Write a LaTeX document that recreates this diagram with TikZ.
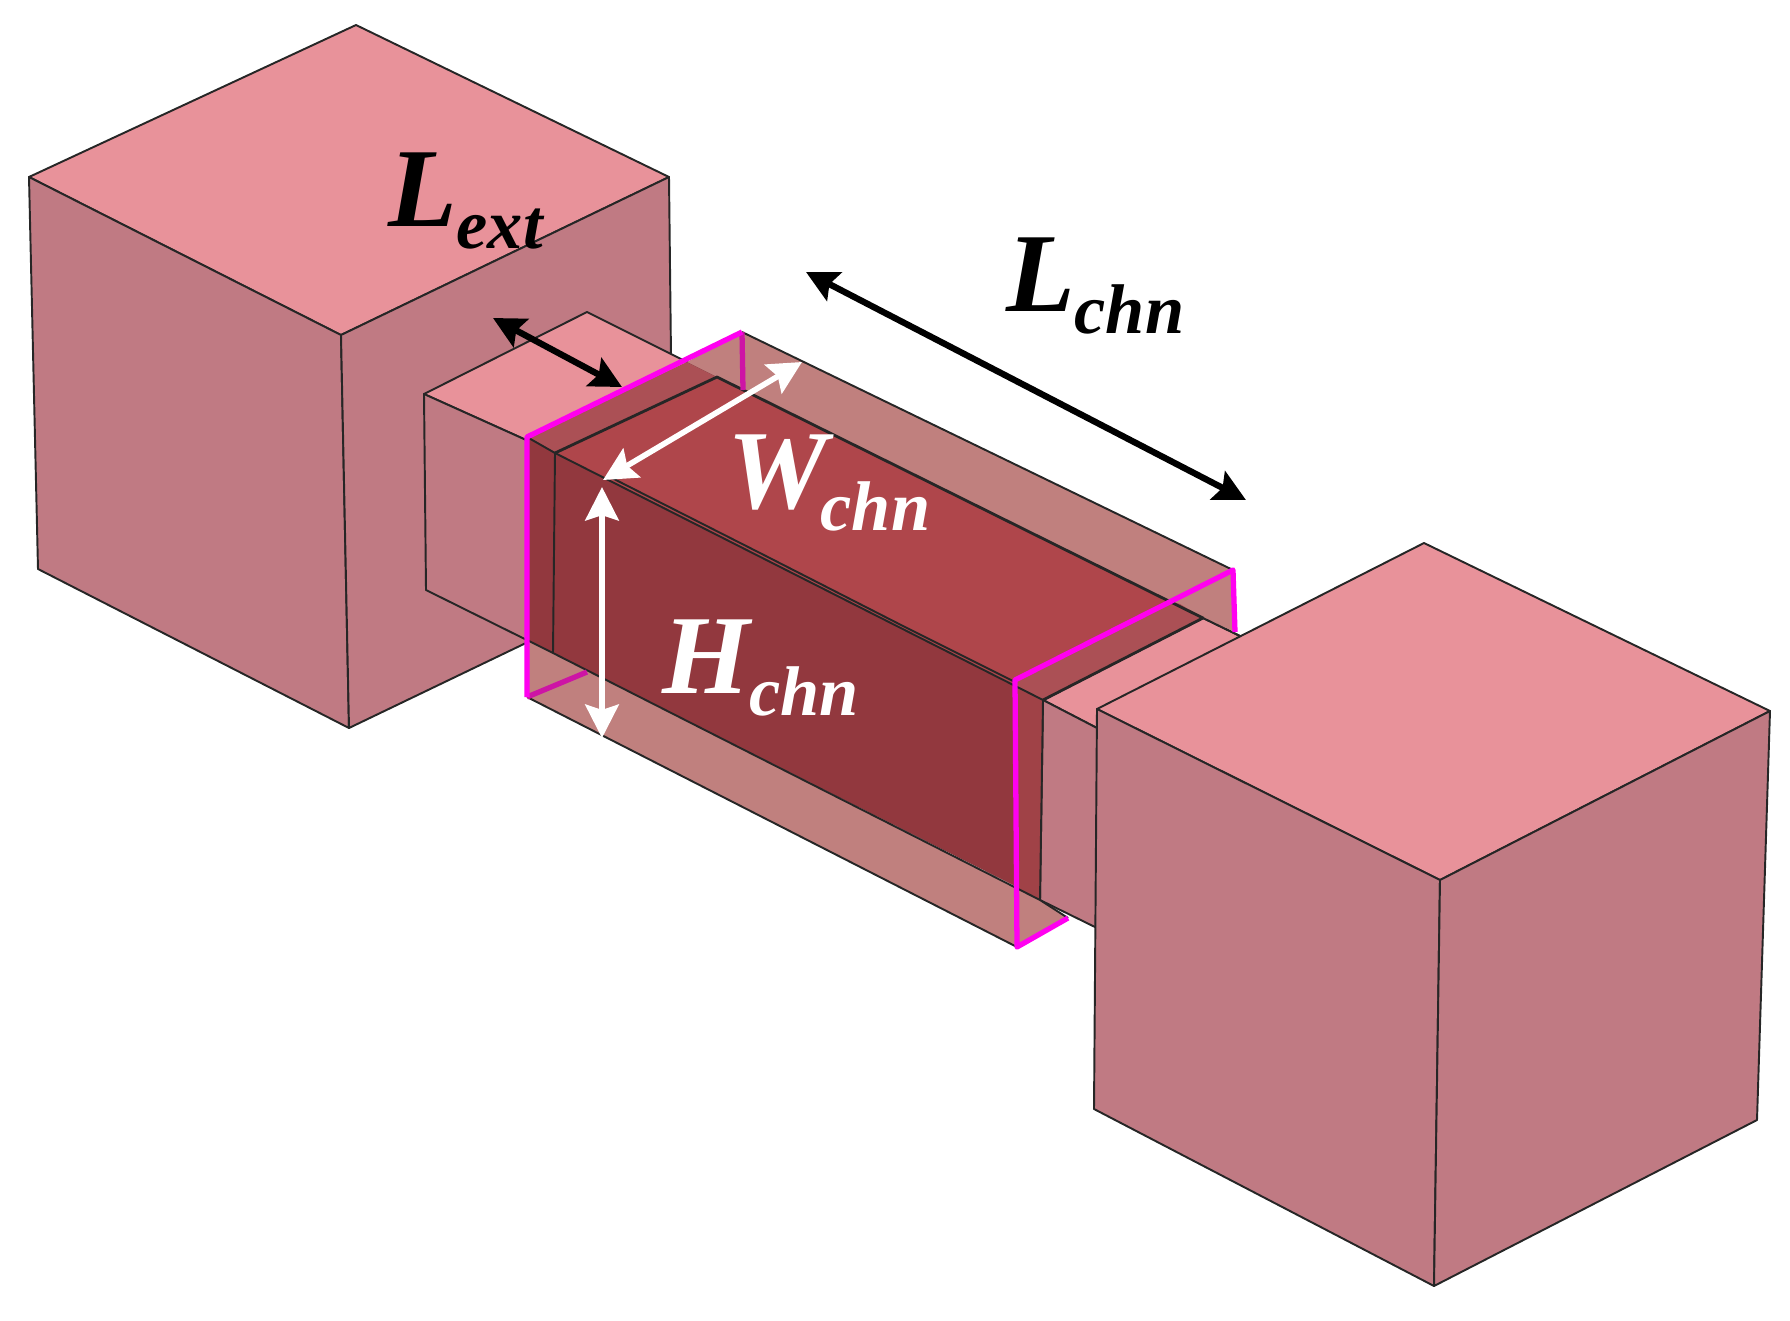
\documentclass[tikz,border=0pt]{standalone}
\usepackage{fontspec}
\setmainfont{Liberation Serif}
\usetikzlibrary{arrows.meta}
\definecolor{padtop}{RGB}{232,146,154}
\definecolor{padside}{RGB}{192,122,131}
\definecolor{gatebox}{RGB}{192,128,126}
\definecolor{chntop}{RGB}{175,70,75}
\definecolor{chnside}{RGB}{146,56,62}
\definecolor{bandtop}{RGB}{171,80,85}
\definecolor{bandside}{RGB}{160,66,71}
\definecolor{gateline}{RGB}{255,0,240}
\definecolor{gateback}{RGB}{205,20,165}
\newcommand{\dimlabel}[2]{{\fontsize{32}{32}\selectfont\bfseries\itshape #1}\kern#2}
\newcommand{\dimsub}[1]{\raisebox{-6.4pt}{\fontsize{20}{20}\selectfont\bfseries\itshape #1}}
\tikzset{
  face/.style={draw=black!85, line width=0.55pt, line join=round},
  padtopface/.style={face, fill=padtop},
  padsideface/.style={face, fill=padside},
  gateedge/.style={draw=gateline, line width=1.5pt, line join=round},
  dimtext/.style={anchor=base west, inner sep=0pt, outer sep=0pt}
}
\begin{document}
\begin{tikzpicture}[x=0.01cm, y=-0.01cm]
\useasboundingbox (0, 0) rectangle (1790, 1320);
% left pad
\draw[padtopface] (356, 25) -- (669, 177) -- (341, 335) -- (29, 177) -- cycle;
\draw[padsideface] (29, 177) -- (341, 335) -- (349, 728) -- (38, 569) -- cycle;
\draw[padsideface] (341, 335) -- (669, 177) -- (671, 356) -- (553, 630) -- (349, 728) -- cycle;
% extensions
\draw[padtopface] (587, 312) -- (717, 377) -- (555, 453) -- (424, 394) -- cycle;
\draw[padsideface] (424, 394) -- (555, 453) -- (553, 653) -- (426, 590) -- cycle;
\draw[padtopface] (1043, 700) -- (1203, 618) -- (1240, 636) -- (1240, 660) -- (1097, 728) -- cycle;
\draw[padsideface] (1043, 700) -- (1097, 728) -- (1097, 928) -- (1040, 900) -- cycle;
% gate box, seen through
\fill[gatebox] (742, 332) -- (1233, 570) -- (1235, 632) -- (1203, 618) -- (717, 377) -- (687, 362) -- cycle;
\fill[gatebox] (527, 640) -- (553, 653) -- (1040, 900) -- (1068, 918) -- (1017, 947) -- (527, 697) -- cycle;
\draw[face] (742, 332) -- (1233, 570);
\draw[face] (527, 697) -- (1017, 947);
\draw[face] (1040, 900) -- (1068, 918);
\draw[face] (1203, 618) -- (1240, 636);
% channel
\fill[bandtop] (527, 437) -- (687, 362) -- (717, 377) -- (555, 453) -- cycle;
\fill[chntop] (555, 453) -- (717, 377) -- (1170, 601) -- (1015, 680) -- (1017, 686) -- cycle;
\fill[bandtop] (1015, 680) -- (1170, 601) -- (1180, 604) -- (1203, 618) -- (1043, 700) -- (1017, 686) -- cycle;
\fill[chnside] (527, 437) -- (555, 453) -- (1017, 686) -- (1017, 887) -- (553, 653) -- (527, 640) -- cycle;
\fill[bandside] (1017, 686) -- (1043, 700) -- (1040, 900) -- (1017, 888) -- cycle;
\draw[face] (527, 437) -- (555, 453) -- (1043, 700) -- (1040, 900) -- (553, 653) -- (527, 640);
\draw[face] (555, 453) -- (553, 653);
\draw[face, line width=0.8pt] (555, 453) -- (717, 377) -- (1203, 618) -- (1043, 700);
\draw[face] (612, 478) -- (760, 553) -- (903, 626) -- (1015, 682);
% gate outline
\draw[gateedge, draw=gateback] (742, 332) -- (743, 390);
\draw[gateedge, draw=gateback] (527, 697) -- (587, 672);
\draw[gateedge] (527, 697) -- (527, 437) -- (742, 332);
\draw[gateedge] (1068, 918) -- (1017, 947) -- (1015, 680) -- (1233, 570) -- (1235, 632);
% right pad
\draw[padtopface] (1424, 543) -- (1770, 711) -- (1440, 880) -- (1097, 709) -- cycle;
\draw[padsideface] (1097, 709) -- (1440, 880) -- (1434, 1286) -- (1094, 1109) -- cycle;
\draw[padsideface] (1440, 880) -- (1770, 711) -- (1757, 1120) -- (1434, 1286) -- cycle;
% dimensions
\coordinate (lextA) at (493, 318);
\coordinate (lextB) at (622, 387);
\coordinate (lchnA) at (806, 272);
\coordinate (lchnB) at (1246, 500);
\coordinate (wchnA) at (802, 362);
\coordinate (wchnB) at (603, 480);
\coordinate (hchnA) at (602, 487);
\coordinate (hchnB) at (602, 738);
\begin{scope}[>={Stealth[length=9pt, width=9pt, inset=1.5pt]},
              every edge/.style={draw=black, line width=1.8pt}]
    \path [<->] (lextA) edge (lextB);
    \path [<->] (lchnA) edge (lchnB);
\end{scope}
\begin{scope}[>={Stealth[length=9.5pt, width=9.5pt, inset=1.5pt]},
              every edge/.style={draw=white, line width=1.6pt}]
    \path [<->] (wchnA) edge (wchnB);
    \path [<->] (hchnA) edge (hchnB);
\end{scope}
\node[dimtext, text=black] (lext) at (388, 226) {\dimlabel{L}{0pt}\dimsub{ext}};
\node[dimtext, text=black] (lchn) at (1006, 311) {\dimlabel{L}{0pt}\dimsub{chn}};
\node[dimtext, text=white] (wchn) at (727, 508) {\dimlabel{W}{-1.8pt}\dimsub{chn}};
\node[dimtext, text=white] (hchn) at (662, 693) {\dimlabel{H}{0pt}\dimsub{chn}};
\end{tikzpicture}
\end{document}
